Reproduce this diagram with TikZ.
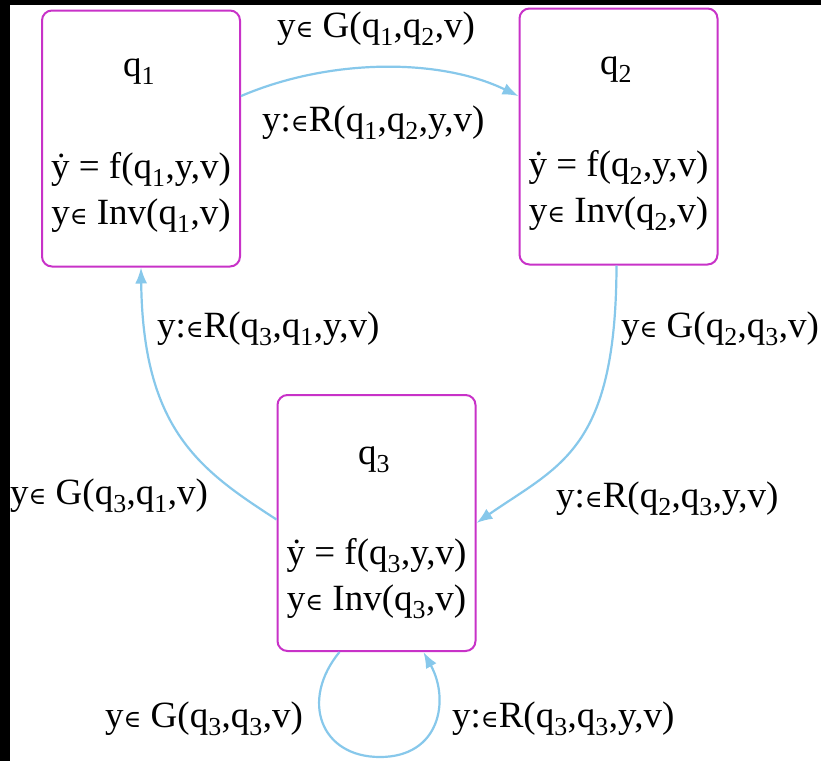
\documentclass[tikz,border=0pt]{standalone}
\usepackage{fontspec}
\setmainfont{Liberation Serif}
\newfontfamily\symfam{DejaVu Serif}
\usetikzlibrary{arrows.meta}
\newcommand\sbs[1]{\textsubscript{#1}}
\newcommand\inn{{\symfam\fontsize{24}{24}\selectfont ∈}}
\definecolor{boxc}{RGB}{200,50,200}
\definecolor{arrc}{RGB}{135,200,235}
\tikzset{
  statebox/.style={draw=boxc, line width=2pt, rounded corners=10pt, minimum width=198pt, minimum height=256pt, inner sep=0pt},
  txt/.style={font=\fontsize{37}{42}\selectfont, inner sep=0pt, anchor=base},
  lbl/.style={font=\fontsize{37}{42}\selectfont, inner sep=0pt, anchor=base west},
  conn/.style={draw=arrc, line width=2.2pt, -{Latex[length=16pt,width=12pt]}}
}
\begin{document}
\begin{tikzpicture}[x=1pt,y=-1pt]
\useasboundingbox (0,0) rectangle (821,761);
\fill[white] (0,0) rectangle (821,761);
\fill[black] (0,0) rectangle (10,761);
\fill[black] (0,0) rectangle (821,5);
% states
\node[statebox] (q1) at (141,138.5) {};
\node[statebox] (q2) at (618.5,136.5) {};
\node[statebox] (q3) at (376.5,523) {};
% texts q1
\node[txt] (q1t) at (139,76) {q\sbs{1}};
\node[txt] (q1f) at (141,178) {\.y = f(q\sbs{1},y,v)};
\node[txt] (q1i) at (141,224) {y\inn{} Inv(q\sbs{1},v)};
% texts q2
\node[txt] (q2t) at (616,74) {q\sbs{2}};
\node[txt] (q2f) at (618.5,176) {\.y = f(q\sbs{2},y,v)};
\node[txt] (q2i) at (618.5,222) {y\inn{} Inv(q\sbs{2},v)};
% texts q3
\node[txt] (q3t) at (374,464) {q\sbs{3}};
\node[txt] (q3f) at (376.5,564) {\.y = f(q\sbs{3},y,v)};
\node[txt] (q3i) at (376.5,610) {y\inn{} Inv(q\sbs{3},v)};
% labels
\node[lbl] (l1) at (277,37) {y\inn{} G(q\sbs{1},q\sbs{2},v)};
\node[lbl] (l2) at (262,131) {y:\inn R(q\sbs{1},q\sbs{2},y,v)};
\node[lbl] (l3) at (157,337) {y:\inn R(q\sbs{3},q\sbs{1},y,v)};
\node[lbl] (l4) at (621,337) {y\inn{} G(q\sbs{2},q\sbs{3},v)};
\node[lbl] (l5) at (10,504) {y\inn{} G(q\sbs{3},q\sbs{1},v)};
\node[lbl] (l6) at (556,507) {y:\inn R(q\sbs{2},q\sbs{3},y,v)};
\node[lbl] (l7) at (105,727) {y\inn{} G(q\sbs{3},q\sbs{3},v)};
\node[lbl] (l8) at (452,727) {y:\inn R(q\sbs{3},q\sbs{3},y,v)};
% connectors
\path[conn] (q1.23) .. controls (330,58) and (440,58) .. (q2.158);
\path[conn] ([xshift=-2pt]q2.south) .. controls (616,450) and (560,465) .. (q3.east);
\path[conn] (q3.178) .. controls (200,470) and (143,430) .. (q1.south);
\path[conn] (q3.-106) .. controls (300,700) and (320,757) .. (380,757) .. controls (440,757) and (450,700) .. (q3.-70);
\end{tikzpicture}
\end{document}
